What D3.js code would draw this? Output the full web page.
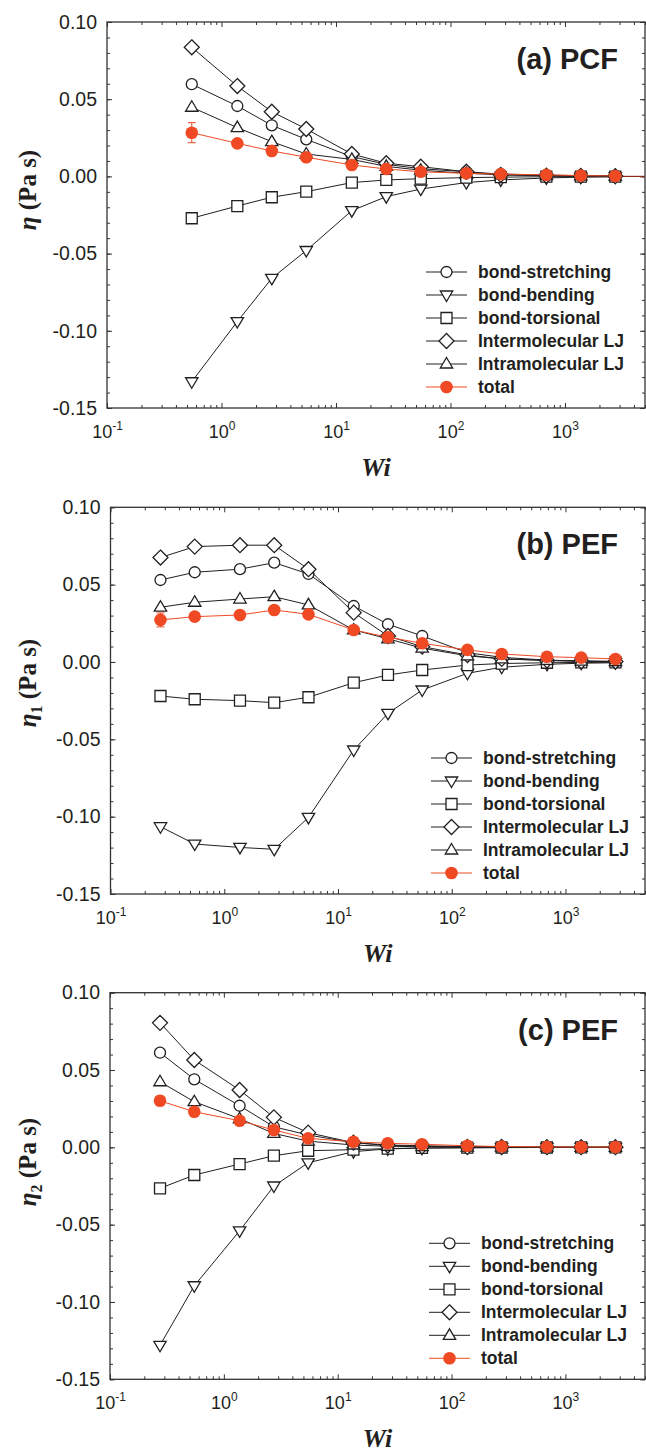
<!DOCTYPE html>
<html>
<head>
<meta charset="utf-8">
<script src="https://cdn.jsdelivr.net/npm/d3@7"></script>
<style>
body { margin: 0; background: #fff; }
svg text { font-family: "Liberation Sans", Arial, sans-serif; fill: #231f20; }
</style>
</head>
<body>
<script>
var width = 646,
    height = 1452;

// data
var wiA = [0.55, 1.375, 2.75, 5.5, 13.75, 27.5, 55, 137.5, 275, 687.5, 1375, 2750];
var wiBC = [0.275, 0.55, 1.375, 2.75, 5.5, 13.75, 27.5, 55, 137.5, 275, 687.5, 1375, 2750];

var seriesNames = ["bond-stretching", "bond-bending", "bond-torsional", "Intermolecular LJ", "Intramolecular LJ", "total"];
var seriesShapes = ["circle", "down", "square", "diamond", "up", "dot"];

var yTickValues = [0.10, 0.05, 0.00, -0.05, -0.10, -0.15];
var xTickExps = [-1, 0, 1, 2, 3];
var panelTitles = ["(a) PCF", "(b) PEF", "(c) PEF"];
var ySubscripts = ["", "1", "2"];

// (a) PCF
var aStretch = [0.0597, 0.0456, 0.0331, 0.0240, 0.0128, 0.0078, 0.0050, 0.0030, 0.0015, 0.0008, 0.0005, 0.0003];
var aBend    = [-0.1330, -0.0940, -0.0660, -0.0480, -0.0222, -0.0131, -0.0082, -0.0040, -0.0023, -0.0010, -0.0005, -0.0003];
var aTors    = [-0.0271, -0.0192, -0.0135, -0.0099, -0.0040, -0.0023, -0.0015, -0.0008, -0.0005, -0.0002, -0.0001, -0.0001];
var aInter   = [0.0836, 0.0585, 0.0419, 0.0307, 0.0145, 0.0085, 0.0063, 0.0030, 0.0010, 0.0005, 0.0003, 0.0002];
var aIntra   = [0.0448, 0.0316, 0.0225, 0.0145, 0.0110, 0.0065, 0.0040, 0.0020, 0.0010, 0.0005, 0.0003, 0.0002];
var aTotal   = [0.0283, 0.0214, 0.0165, 0.0124, 0.0074, 0.0048, 0.0030, 0.0020, 0.0015, 0.0010, 0.0005, 0.0003];
var aErr     = [0.0065, 0.0020, 0.0015, 0.0012, 0.0010, 0.0008, 0.0006, 0.0005, 0.0004, 0.0003, 0.0002, 0.0002];

// (b) PEF eta1
var bStretch = [0.0530, 0.0580, 0.0600, 0.0642, 0.0569, 0.0362, 0.0244, 0.0168, 0.0060, 0.0030, 0.0012, 0.0006, 0.0004];
var bBend    = [-0.1065, -0.1177, -0.1199, -0.1211, -0.1005, -0.0569, -0.0332, -0.0181, -0.0073, -0.0034, -0.0015, -0.0008, -0.0005];
var bTors    = [-0.0220, -0.0241, -0.0250, -0.0263, -0.0228, -0.0134, -0.0084, -0.0052, -0.0020, -0.0010, -0.0005, -0.0003, -0.0002];
var bInter   = [0.0675, 0.0746, 0.0755, 0.0755, 0.0600, 0.0319, 0.0168, 0.0099, 0.0045, 0.0020, 0.0010, 0.0005, 0.0003];
var bIntra   = [0.0354, 0.0386, 0.0407, 0.0422, 0.0369, 0.0207, 0.0150, 0.0089, 0.0040, 0.0020, 0.0010, 0.0005, 0.0003];
var bTotal   = [0.0272, 0.0293, 0.0304, 0.0336, 0.0308, 0.0207, 0.0160, 0.0121, 0.0078, 0.0052, 0.0034, 0.0028, 0.0019];
var bErr     = [0.0045, 0.0020, 0.0015, 0.0015, 0.0012, 0.0010, 0.0008, 0.0006, 0.0005, 0.0004, 0.0003, 0.0002, 0.0002];

// (c) PEF eta2
var cStretch = [0.0612, 0.0440, 0.0269, 0.0133, 0.0080, 0.0030, 0.0015, 0.0010, 0.0005, 0.0003, 0.0002, 0.0001, 0.0001];
var cBend    = [-0.1280, -0.0895, -0.0540, -0.0250, -0.0100, -0.0028, -0.0010, -0.0005, -0.0003, -0.0002, -0.0001, -0.0001, -0.0001];
var cTors    = [-0.0265, -0.0179, -0.0108, -0.0054, -0.0022, -0.0015, -0.0008, -0.0004, -0.0002, -0.0001, -0.0001, 0.0000, 0.0000];
var cInter   = [0.0805, 0.0565, 0.0371, 0.0194, 0.0095, 0.0030, 0.0012, 0.0006, 0.0003, 0.0002, 0.0001, 0.0001, 0.0001];
var cIntra   = [0.0424, 0.0295, 0.0185, 0.0090, 0.0040, 0.0015, 0.0007, 0.0004, 0.0002, 0.0001, 0.0001, 0.0000, 0.0000];
var cTotal   = [0.0301, 0.0230, 0.0172, 0.0112, 0.0058, 0.0036, 0.0026, 0.0020, 0.0010, 0.0005, 0.0003, 0.0002, 0.0002];
var cErr     = [0.0030, 0.0020, 0.0015, 0.0012, 0.0010, 0.0008, 0.0006, 0.0005, 0.0004, 0.0003, 0.0002, 0.0002, 0.0002];
// end data

var red = "#ef4a24",
    ink = "#231f20";

var panels = [
    { left: 107, right: 645, top: 22, bottom: 408, wi: wiA, series: [aStretch, aBend, aTors, aInter, aIntra, aTotal], err: aErr, legendX: 426, labelY: 190, tail: true },
    { left: 110.5, right: 645, top: 507.3, bottom: 894, wi: wiBC, series: [bStretch, bBend, bTors, bInter, bIntra, bTotal], err: bErr, legendX: 431, labelY: 683, tail: false },
    { left: 110, right: 645, top: 992.7, bottom: 1379.3, wi: wiBC, series: [cStretch, cBend, cTors, cInter, cIntra, cTotal], err: cErr, legendX: 429, labelY: 1162, tail: false }
];

var svg = d3.select("body").append("svg")
    .attr("width", width)
    .attr("height", height);

// marker shapes
function shapePath(kind) {
    switch (kind) {
        case "circle": return "M5.5,0A5.5,5.5 0 1,1 -5.5,0A5.5,5.5 0 1,1 5.5,0Z";
        case "square": return "M-5.5,-5.5H5.5V5.5H-5.5Z";
        case "diamond": return "M0,-7.5L7.5,0L0,7.5L-7.5,0Z";
        case "up": return "M0,-6.5L6.2,4L-6.2,4Z";
        case "down": return "M0,6.5L6.2,-4L-6.2,-4Z";
        case "dot": return "M6.3,0A6.3,6.3 0 1,1 -6.3,0A6.3,6.3 0 1,1 6.3,0Z";
    }
}

function drawMarker(g, kind, x, y) {
    g.append("path")
        .attr("transform", "translate(" + x + "," + y + ")")
        .attr("d", shapePath(kind))
        .attr("fill", kind === "dot" ? red : "#fff")
        .attr("stroke", kind === "dot" ? "none" : ink)
        .attr("stroke-width", 1.3);
}

function minorLogTicks() {
    var out = [];
    [0.1, 1, 10, 100, 1000].forEach(function(k) {
        for (var j = 2; j <= 9; j++) if (k * j <= 5000) out.push(k * j);
    });
    return out;
}

var fmtY = d3.format(".2f");

function drawPanel(p, idx) {
    var x = d3.scaleLog().domain([0.1, 5000]).range([p.left, p.right]),
        y = d3.scaleLinear().domain([-0.15, 0.10]).range([p.bottom, p.top]);

    var g = svg.append("g");

    // ticks
    var minorY = d3.range(-15, 11).map(function(v) { return v / 100; });
    var majorX = xTickExps.map(function(e) { return Math.pow(10, e); });

    g.append("g").attr("transform", "translate(" + p.left + ",0)")
        .call(d3.axisLeft(y).tickValues(minorY).tickSize(-3).tickFormat(""));
    g.append("g").attr("transform", "translate(" + p.right + ",0)")
        .call(d3.axisRight(y).tickValues(minorY).tickSize(-3).tickFormat(""));
    g.append("g").attr("transform", "translate(" + p.left + ",0)")
        .call(d3.axisLeft(y).tickValues(yTickValues).tickSize(-5).tickPadding(10)
            .tickFormat(function(d) { return fmtY(d).replace("\u2212", "-"); }))
        .attr("class", "y-major");
    g.append("g").attr("transform", "translate(" + p.right + ",0)")
        .call(d3.axisRight(y).tickValues(yTickValues).tickSize(-5).tickFormat(""));

    g.append("g").attr("transform", "translate(0," + p.bottom + ")")
        .call(d3.axisBottom(x).tickValues(minorLogTicks()).tickSize(-3).tickFormat(""));
    g.append("g").attr("transform", "translate(0," + p.top + ")")
        .call(d3.axisTop(x).tickValues(minorLogTicks()).tickSize(-3).tickFormat(""));
    var gxb = g.append("g").attr("transform", "translate(0," + p.bottom + ")")
        .call(d3.axisBottom(x).tickValues(majorX).tickSize(-5).tickPadding(0).tickFormat(""));
    g.append("g").attr("transform", "translate(0," + p.top + ")")
        .call(d3.axisTop(x).tickValues(majorX).tickSize(-5).tickFormat(""));

    g.selectAll(".domain").remove();
    g.selectAll(".tick line").attr("stroke", "#333").attr("stroke-width", 1);

    g.selectAll(".y-major .tick text")
        .attr("font-size", 19.5)
        .attr("fill", ink);

    gxb.selectAll(".tick text").each(function(d, i) {
        var t = d3.select(this)
            .attr("y", 30)
            .attr("dy", 0)
            .attr("font-size", 18)
            .attr("fill", ink);
        t.append("tspan").text("10");
        t.append("tspan").attr("dy", -8).attr("font-size", 12).text(xTickExps[i]);
    });

    // frame
    g.append("rect")
        .attr("x", p.left)
        .attr("y", p.top)
        .attr("width", p.right - p.left)
        .attr("height", p.bottom - p.top)
        .attr("fill", "none")
        .attr("stroke", "#333")
        .attr("stroke-width", 1.3);

    var line = d3.line()
        .x(function(d) { return x(d[0]); })
        .y(function(d) { return y(d[1]); });

    if (p.tail) {
        var last = p.wi[p.wi.length - 1];
        g.append("path")
            .attr("d", line([[last, 0], [5000, 0]]))
            .attr("stroke", "#8a2a18")
            .attr("stroke-width", 1.2)
            .attr("fill", "none");
    }

    // series
    p.series.forEach(function(vals, s) {
        var pts = p.wi.map(function(w, i) { return [w, vals[i]]; });
        var isTotal = seriesShapes[s] === "dot";
        g.append("path")
            .attr("d", line(pts))
            .attr("fill", "none")
            .attr("stroke", isTotal ? red : ink)
            .attr("stroke-width", 1);

        if (isTotal) {
            pts.forEach(function(d, i) {
                var e = p.err[i], cx = x(d[0]);
                g.append("line")
                    .attr("x1", cx).attr("x2", cx)
                    .attr("y1", y(d[1] - e)).attr("y2", y(d[1] + e))
                    .attr("stroke", red).attr("stroke-width", 1);
                [d[1] - e, d[1] + e].forEach(function(v) {
                    g.append("line")
                        .attr("x1", cx - 4).attr("x2", cx + 4)
                        .attr("y1", y(v)).attr("y2", y(v))
                        .attr("stroke", red).attr("stroke-width", 1);
                });
            });
        }
        pts.forEach(function(d) { drawMarker(g, seriesShapes[s], x(d[0]), y(d[1])); });
    });

    // legend
    seriesNames.forEach(function(name, s) {
        var ly = p.bottom - 136 + s * 23;
        var isTotal = seriesShapes[s] === "dot";
        g.append("line")
            .attr("x1", p.legendX).attr("x2", p.legendX + 41)
            .attr("y1", ly).attr("y2", ly)
            .attr("stroke", isTotal ? red : ink)
            .attr("stroke-width", 1);
        drawMarker(g, seriesShapes[s], p.legendX + 20.5, ly);
        g.append("text")
            .attr("x", p.legendX + 52)
            .attr("y", ly + 6)
            .attr("font-size", 17.5)
            .attr("font-weight", "bold")
            .text(name);
    });

    // panel title
    g.append("text")
        .attr("x", 618)
        .attr("y", p.top + 47)
        .attr("text-anchor", "end")
        .attr("font-size", 29)
        .attr("font-weight", "bold")
        .text(panelTitles[idx]);

    // y label
    var yl = g.append("text")
        .attr("transform", "translate(36," + p.labelY + ") rotate(-90)")
        .attr("text-anchor", "middle")
        .attr("font-size", 25)
        .attr("font-weight", "bold")
        .style("font-family", "'Liberation Serif', 'Times New Roman', serif");
    yl.append("tspan").attr("font-style", "italic").text("\u03b7");
    if (ySubscripts[idx]) {
        yl.append("tspan").attr("font-size", 16).attr("dy", 6).text(ySubscripts[idx]);
        yl.append("tspan").attr("dy", -6).text(" (Pa s)");
    } else {
        yl.append("tspan").text(" (Pa s)");
    }

    // x label
    g.append("text")
        .attr("x", (p.left + p.right) / 2)
        .attr("y", p.bottom + 68)
        .attr("text-anchor", "middle")
        .attr("font-size", 26)
        .attr("font-weight", "bold")
        .attr("font-style", "italic")
        .style("font-family", "'Liberation Serif', 'Times New Roman', serif")
        .text("Wi");
}

panels.forEach(drawPanel);
</script>
</body>
</html>
